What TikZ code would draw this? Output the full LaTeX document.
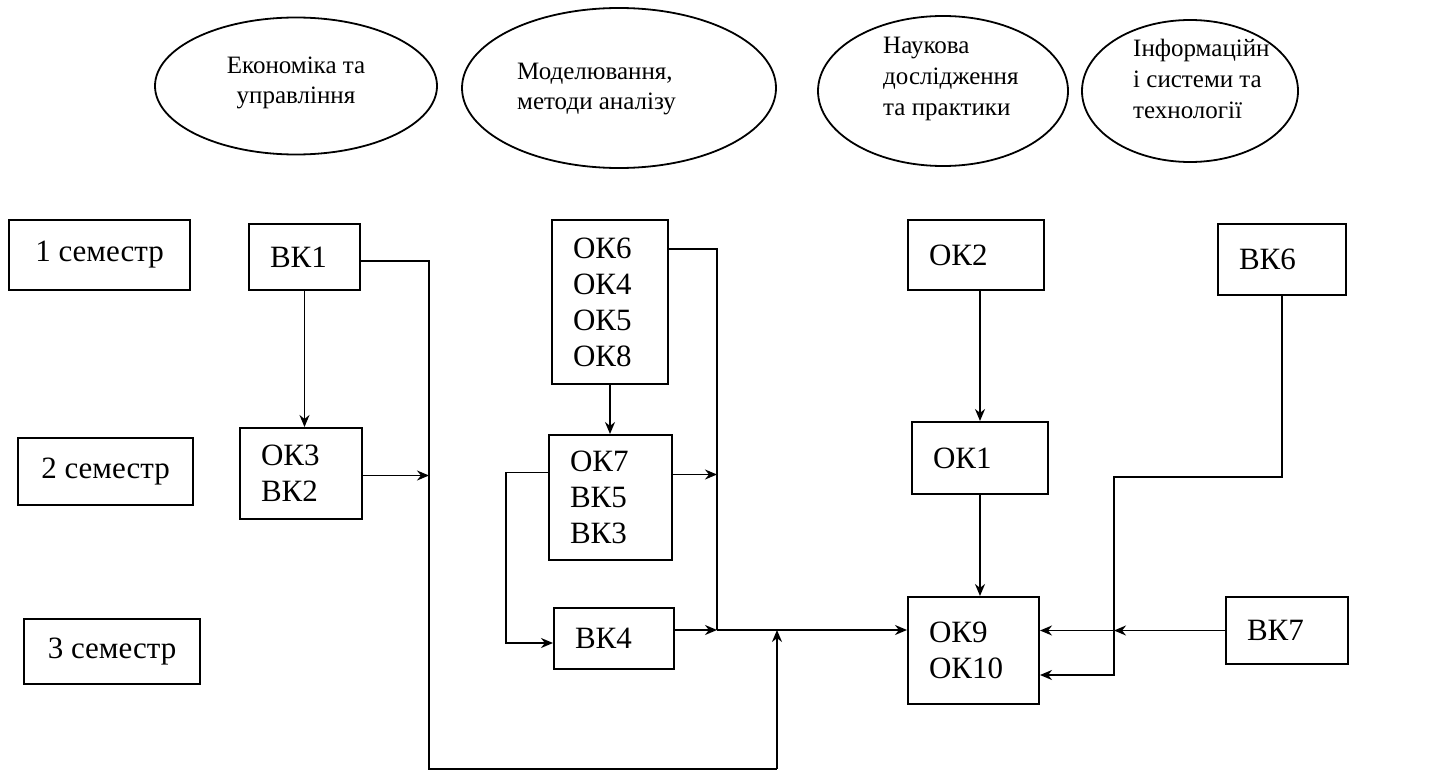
\documentclass[tikz,border=0pt]{standalone}
\usepackage{fontspec}
\setmainfont{Liberation Serif}
\usetikzlibrary{shapes.geometric,arrows.meta}
\begin{document}
\begin{tikzpicture}[x=1pt,y=-1pt,
  kb/.style={draw, line width=2pt, anchor=north west, inner xsep=21pt, inner ysep=0pt, align=left, font=\fontsize{31}{36}\selectfont},
  sem/.style={draw, line width=2pt, anchor=north west, inner sep=0pt, align=center, font=\fontsize{31}{36}\selectfont},
  ell/.style={draw, ellipse, line width=1.8pt, inner sep=0pt},
  etxt/.style={inner sep=0pt, font=\fontsize{25}{30}\selectfont},
  etxtw/.style={inner sep=0pt, font=\fontsize{25}{31}\selectfont},
  conn/.style={line width=1.8pt},
  arr/.style={conn, -{Stealth[length=12pt,width=10pt]}}]
\useasboundingbox (0,0) rectangle (1434,773);
\fill[white] (0,0) rectangle (1434,773);

% ellipses
\node[ell, minimum width=282pt, minimum height=137pt] (e1) at (296,86) {};
\node[ell, minimum width=314pt, minimum height=160pt] (e2) at (619,88) {};
\node[ell, minimum width=250pt, minimum height=150pt] (e3) at (943,91) {};
\node[ell, minimum width=216pt, minimum height=142pt] (e4) at (1190,91) {};
\node[etxt, align=center] (te1) at (296,83) {Економіка та\\управління};
\node[etxt, align=left, anchor=west] (te2) at (517,89) {Моделювання,\\методи аналізу};
\node[etxtw, align=left, anchor=west] (te3) at (883,79) {Наукова\\дослідження\\та практики};
\node[etxtw, align=left, anchor=west] (te4) at (1133,79) {Інформаційн\\і системи та\\технології};

% semesters
\node[sem, minimum width=181pt, minimum height=70pt] (s1) at (8,219) {1 семестр};
\node[sem, minimum width=175pt, minimum height=67pt] (s2) at (17,437) {2 семестр};
\node[sem, minimum width=176pt, minimum height=65pt] (s3) at (23,618) {3 семестр};

% course boxes
\node[kb, text width=69pt, minimum height=66pt] (bk1) at (248,223) {ВК1};
\node[kb, text width=80pt, minimum height=91pt] (ok3) at (239,427) {ОК3\\ВК2};
\node[kb, text width=74pt, minimum height=164pt] (ok6) at (551,219) {ОК6\\ОК4\\ОК5\\ОК8};
\node[kb, text width=81pt, minimum height=125pt] (ok7) at (548,434) {ОК7\\ВК5\\ВК3};
\node[kb, text width=78pt, minimum height=61pt] (bk4) at (553,607) {ВК4};
\node[kb, text width=94pt, minimum height=70pt] (ok2) at (907,219) {ОК2};
\node[kb, text width=94pt, minimum height=72pt] (ok1) at (911,421) {ОК1};
\node[kb, text width=89pt, minimum height=107pt] (ok9) at (907,596) {ОК9\\ОК10};
\node[kb, text width=86pt, minimum height=71pt] (bk6) at (1217,223) {ВК6};
\node[kb, text width=80pt, minimum height=67pt] (bk7) at (1225,596) {ВК7};

% helper coordinates
\coordinate (vL) at (429,769);
\coordinate (vR) at (777,769);
\coordinate (jn) at (777,630);
\coordinate (vM) at (717,630);
\coordinate (lv) at (506,643);
\coordinate (t1) at (1114,477);
\coordinate (t2) at (1114,675);

% connectors, left column
\draw[arr] (bk1.south) -- (bk1.south |- ok3.north);
\draw[conn] ([yshift=-4pt]bk1.east) -| (vL) -- (vR);
\draw[arr] (vR) -- (jn);
\draw[arr] ([yshift=-2pt]ok3.east) coordinate (p3) -- (p3 -| vL);

% connectors, middle column
\draw[conn] ([yshift=-30pt]ok6.north east) -| (vM);
\draw[arr] (ok6.south) -- (ok6.south |- ok7.north);
\draw[arr] ([yshift=25pt]ok7.west) -| (lv) -- (lv -| bk4.west);
\draw[arr] ([yshift=23pt]ok7.east) coordinate (p7) -- (p7 -| vM);
\draw[arr] (bk4.east |- vM) -- (vM);
\draw[arr] (vM) -- (vM -| ok9.west);

% connectors, right columns
\draw[arr] (ok1.north |- ok2.south) -- (ok1.north);
\draw[arr] (ok1.south) -- (ok1.south |- ok9.north);
\draw[arr] (bk6.south) |- (t1) -- (t2) -- (t2 -| ok9.east);
\draw[arr] (bk7.west) -- (bk7.west -| t1);
\draw[arr] (bk7.west -| t1) -- (bk7.west -| ok9.east);
\end{tikzpicture}
\end{document}
